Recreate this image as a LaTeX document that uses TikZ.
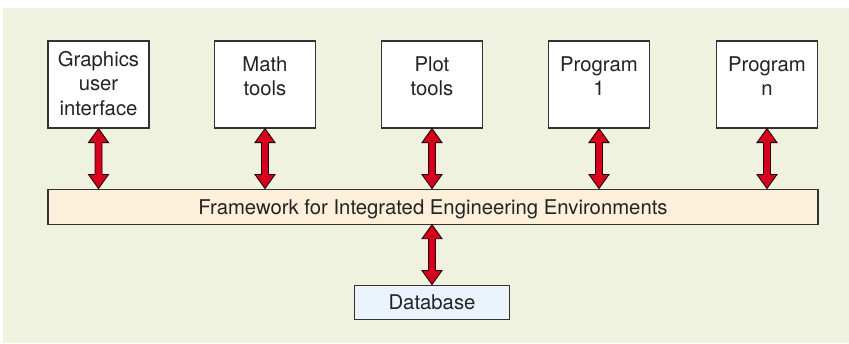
\documentclass[tikz,border=0pt]{standalone}
\usepackage{fontspec}
\setmainfont{TeX Gyre Heros}
\usetikzlibrary{calc}

\definecolor{panelgreen}{RGB}{238,242,222}
\definecolor{framefill}{RGB}{253,240,218}
\definecolor{dbfill}{RGB}{235,243,252}
\definecolor{arrowred}{RGB}{214,0,30}
\definecolor{edgegray}{RGB}{50,50,50}
\definecolor{inkgray}{RGB}{35,35,35}

\tikzset{
  toolbox/.style={draw=edgegray, line width=1.2pt, fill=white,
    minimum width=101pt, minimum height=87pt, inner sep=0pt},
  boxlabel/.style={inner sep=0pt, align=center, text=inkgray,
    font=\fontsize{20.3}{24.5}\selectfont, anchor=north},
  barbox/.style={draw=edgegray, line width=1.2pt, inner sep=0pt, text=inkgray,
    font=\fontsize{20.3}{24.5}\selectfont, anchor=north},
  bidir/.style={fill=arrowred, draw=black!85!red, line width=0.9pt, line join=miter},
}

% double-headed block arrow between two node anchors (same x)
\newcommand\bidirarrow[2]{%
  \draw[bidir] let \p1=(#1), \p2=(#2) in
    (\x1,\y1) -- (\x1+10pt,\y1-14pt) -- (\x1+3.5pt,\y1-14pt)
    -- (\x1+3.5pt,\y2+14pt) -- (\x1+10pt,\y2+14pt) -- (\x1,\y2)
    -- (\x1-10pt,\y2+14pt) -- (\x1-3.5pt,\y2+14pt)
    -- (\x1-3.5pt,\y1-14pt) -- (\x1-10pt,\y1-14pt) -- cycle;}

\begin{document}
\begin{tikzpicture}[x=1pt, y=-1pt]
  \useasboundingbox (0,0) rectangle (849,343);
  \fill[white] (0,0) rectangle (849,343);
  \fill[panelgreen] (3,8) rectangle (849,343);

  % tool boxes
  \node[toolbox] (gui)  at (98.5,84.5) {};
  \node[toolbox] (math) at (265,84.5) {};
  \node[toolbox] (plot) at (432,84.5) {};
  \node[toolbox] (prg1) at (599,84.5) {};
  \node[toolbox] (prgn) at (767,84.5) {};

  \node[boxlabel] (gui-t)  at ([yshift=-10.5pt]gui.north)  {Graphics\\user\\interface};
  \node[boxlabel] (math-t) at ([yshift=-16pt]math.north) {Math\\tools};
  \node[boxlabel] (plot-t) at ([yshift=-16pt]plot.north) {Plot\\tools};
  \node[boxlabel] (prg1-t) at ([yshift=-16pt]prg1.north) {Program\\1};
  \node[boxlabel] (prgn-t) at ([yshift=-16pt]prgn.north) {Program\\n};

  % framework bar
  \node[barbox, fill=framefill, minimum width=770pt,
        text height=25pt, text depth=10pt] (fw) at (433,188.5)
        {Framework for Integrated Engineering Environments};

  % database
  \node[barbox, fill=dbfill, minimum width=154.5pt,
        text height=24pt, text depth=10.5pt] (db) at (432,284.5)
        {Database};

  % connectors
  \bidirarrow{gui.south}{gui.south |- fw.north}
  \bidirarrow{math.south}{math.south |- fw.north}
  \bidirarrow{plot.south}{plot.south |- fw.north}
  \bidirarrow{prg1.south}{prg1.south |- fw.north}
  \bidirarrow{prgn.south}{prgn.south |- fw.north}
  \bidirarrow{db.north |- fw.south}{db.north}
\end{tikzpicture}
\end{document}
